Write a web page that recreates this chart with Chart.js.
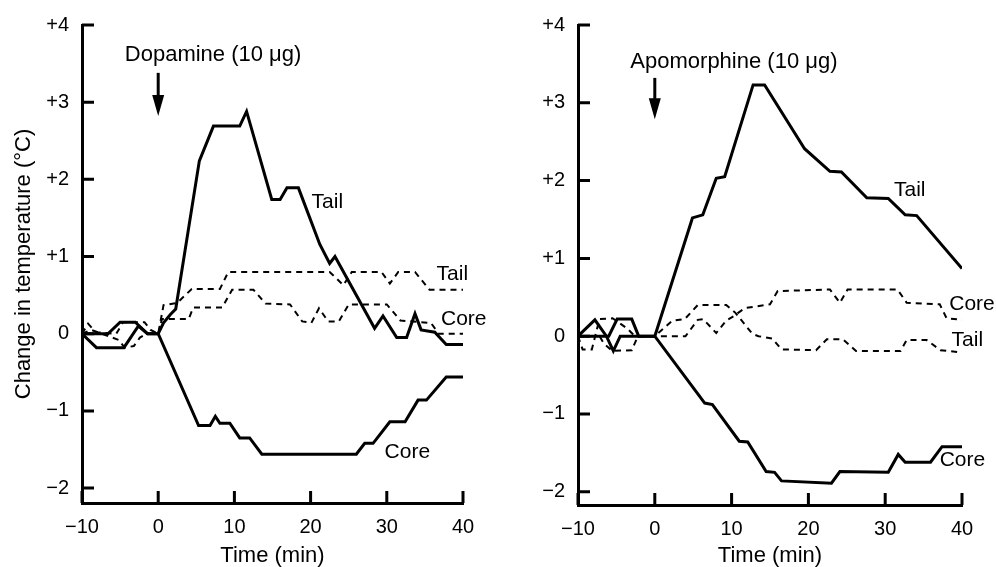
<!DOCTYPE html>
<html>
<head>
<meta charset="utf-8">
<title>Dopamine / Apomorphine temperature change</title>
<script src="https://cdn.jsdelivr.net/npm/chart.js@4.4.1/dist/chart.umd.min.js"></script>
<style>
  html, body { margin: 0; padding: 0; background: #fff; }
  .wrap { display: flex; width: 996px; height: 567px; }
  canvas { display: block; }
</style>
</head>
<body>
<div class="wrap">
  <canvas id="dopamineChart" width="498" height="567"></canvas>
  <canvas id="apomorphineChart" width="498" height="567"></canvas>
</div>
<script>
// axis ticks
const xTickValues = [-10, 0, 10, 20, 30, 40];
const yTickValues = [-2, -1, 0, 1, 2, 3, 4];

// Dopamine (10 ug) panel -- [time (min), change in temperature (C)]
const dopamineTail = [
  [-10, 0], [-6.6, 0], [-5.0, 0.15], [-3.0, 0.15], [-1.4, 0], [0, 0],
  [0.7, 0.14], [1.6, 0.25], [2.3, 0.32], [5.4, 2.24], [7.25, 2.69], [10.7, 2.69],
  [11.6, 2.88], [14.9, 1.74], [16.0, 1.74], [16.9, 1.89], [18.4, 1.89], [21.2, 1.16],
  [22.5, 0.91], [23.2, 1.0], [28.4, 0.07], [29.5, 0.23], [31.3, -0.05], [32.6, -0.05],
  [33.7, 0.26], [34.5, 0.05], [36.3, 0.02], [37.8, -0.14], [40, -0.14],
];
const dopamineCore = [
  [-10, 0], [-8.1, -0.18], [-4.5, -0.18], [-2.6, 0.1], [-1.4, 0], [0, 0],
  [5.3, -1.19], [6.8, -1.19], [7.5, -1.07], [8.1, -1.16], [9.4, -1.16], [10.7, -1.35],
  [12.0, -1.35], [13.6, -1.56], [26.0, -1.56], [27.1, -1.42], [28.2, -1.42], [30.4, -1.14],
  [32.4, -1.14], [34.1, -0.86], [35.2, -0.86], [37.8, -0.56], [40, -0.56],
];
const dopamineTailControl = [
  [-10, 0], [-9.2, 0.13], [-8.2, 0.02], [-5.5, 0], [-4.6, 0.15], [-1.8, 0.15], [-1, 0.05],
  [0, 0], [0.7, 0.37], [2.5, 0.4], [4.4, 0.58], [8.1, 0.58], [9.2, 0.8], [22.5, 0.8],
  [24.3, 0.63], [25.4, 0.8], [29.3, 0.8], [30.4, 0.65], [31.5, 0.8], [33.7, 0.8],
  [35.6, 0.57], [40, 0.57],
];
const dopamineCoreControl = [
  [-10, 0], [-8.8, 0.05], [-5.2, -0.08], [-4.4, -0.18], [-3.2, -0.16], [-2.4, -0.05],
  [-1.5, 0], [0, 0], [0.5, 0.19], [4.0, 0.19], [4.6, 0.34], [8.4, 0.34], [9.7, 0.57],
  [12.5, 0.57], [14.1, 0.39], [17.3, 0.38], [18.9, 0.16], [20.1, 0.14], [21.1, 0.33],
  [22.3, 0.16], [23.7, 0.16], [25.0, 0.38], [30.0, 0.38], [31.8, 0.17], [35.8, 0.14],
  [36.8, 0], [40, 0],
];

// Apomorphine (10 ug) panel
const apomorphineTail = [
  [-10, 0], [-7.8, 0.21], [-6.3, 0], [-5.4, -0.19], [-4.5, 0], [0, 0],
  [4.9, 1.52], [6.25, 1.56], [8.0, 2.03], [9.1, 2.05], [12.8, 3.23], [14.3, 3.23],
  [19.5, 2.41], [22.8, 2.12], [24.3, 2.11], [27.6, 1.78], [30.4, 1.77], [32.6, 1.56],
  [34.1, 1.55], [40, 0.87],
];
const apomorphineCore = [
  [-10, 0], [-6.0, 0], [-4.9, 0.22], [-3.0, 0.22], [-2.1, 0], [0, 0],
  [6.5, -0.86], [7.5, -0.88], [11.0, -1.35], [12.1, -1.36], [14.5, -1.74], [15.6, -1.75],
  [16.5, -1.86], [23.0, -1.89], [24.1, -1.74], [30.4, -1.75], [31.7, -1.52], [32.6, -1.62],
  [35.9, -1.62], [37.4, -1.42], [40, -1.42],
];
const apomorphineTailControl = [
  [-10, 0], [-9.4, -0.17], [-8.2, -0.17], [-7.2, 0.22], [-5.5, 0.23], [-3.6, 0.1],
  [-2.6, 0], [0, 0], [2.3, 0.2], [3.9, 0.22], [5.6, 0.4], [9.3, 0.4], [10.5, 0.3],
  [12.7, 0.03], [13.5, 0], [15.3, -0.03], [16.5, -0.17], [21, -0.18], [22.4, -0.04],
  [24.5, -0.04], [26.2, -0.19], [32, -0.19], [32.8, -0.05], [35.4, -0.05], [37.2, -0.18],
  [40, -0.21],
];
const apomorphineCoreControl = [
  [-10, 0], [-7.2, 0], [-6.6, -0.1], [-5.5, -0.19], [-3.0, -0.18], [-2.2, 0], [0, 0],
  [4.0, 0], [5.6, 0.21], [6.3, 0.22], [8.0, 0.04], [9.3, 0.2], [10.3, 0.26], [11.7, 0.36],
  [15.0, 0.41], [16.0, 0.58], [22.8, 0.6], [24.1, 0.43], [25.1, 0.6], [31.6, 0.6],
  [32.8, 0.43], [37.1, 0.41], [38.0, 0.23], [40, 0.21],
];

const INK = "#000";
const FONT = "'Liberation Sans', Arial, Helvetica, sans-serif";

Chart.defaults.font.family = FONT;
Chart.defaults.color = INK;

const fmtY = (v) => (v > 0 ? "+" + v : v < 0 ? "\u2212" + Math.abs(v) : "0");
const fmtX = (v) => (v < 0 ? "\u2212" + Math.abs(v) : String(v));

const line = (points, dashed) => ({
  data: points.map(([x, y]) => ({ x, y })),
  borderColor: INK,
  borderWidth: dashed ? 2 : 3,
  borderDash: dashed ? [6, 5] : [],
  pointRadius: 0,
  tension: 0,
  showLine: true,
  fill: false,
});

// ticks on these graphs point into the plot
const inwardTicks = {
  id: "inwardTicks",
  afterDraw(chart) {
    const { ctx, chartArea, scales } = chart;
    ctx.save();
    ctx.strokeStyle = INK;
    ctx.lineWidth = 3;
    ctx.beginPath();
    scales.x.ticks.forEach((t) => {
      const px = scales.x.getPixelForValue(t.value);
      ctx.moveTo(px, chartArea.bottom);
      ctx.lineTo(px, chartArea.bottom - 12);
    });
    scales.y.ticks.forEach((t) => {
      const py = scales.y.getPixelForValue(t.value);
      ctx.moveTo(chartArea.left, py);
      ctx.lineTo(chartArea.left + 12, py);
    });
    ctx.stroke();
    ctx.restore();
  },
};

// curve labels and the injection arrow, placed in data units
const notes = (labels, arrow) => ({
  id: "notes",
  afterDraw(chart) {
    const { ctx } = chart;
    const { x, y } = chart.scales;
    ctx.save();
    ctx.fillStyle = INK;
    ctx.strokeStyle = INK;
    ctx.textAlign = "center";
    ctx.textBaseline = "middle";
    labels.forEach((l) => {
      ctx.font = `${l.size}px ${FONT}`;
      ctx.fillText(l.text, x.getPixelForValue(l.x), y.getPixelForValue(l.y));
    });

    const ax = x.getPixelForValue(arrow.x);
    const top = y.getPixelForValue(arrow.from);
    const tip = y.getPixelForValue(arrow.to);
    ctx.lineWidth = 3;
    ctx.beginPath();
    ctx.moveTo(ax, top);
    ctx.lineTo(ax, tip - 16);
    ctx.stroke();
    ctx.beginPath();
    ctx.moveTo(ax - 6, tip - 21);
    ctx.lineTo(ax + 6, tip - 21);
    ctx.lineTo(ax, tip);
    ctx.closePath();
    ctx.fill();
    ctx.restore();
  },
});

function makePanel(id, series, labels, arrow, area, yMin, showYTitle) {
  const W = 498, H = 567;
  return new Chart(document.getElementById(id), {
    type: "scatter",
    data: {
      datasets: [
        line(series.tail, false),
        line(series.core, false),
        line(series.tailControl, true),
        line(series.coreControl, true),
      ],
    },
    options: {
      responsive: false,
      animation: false,
      layout: { padding: { left: 0, top: area.top, right: W - area.right, bottom: 0 } },
      plugins: { legend: { display: false }, tooltip: { enabled: false } },
      scales: {
        x: {
          type: "linear",
          min: -10,
          max: 40,
          afterBuildTicks: (s) => { s.ticks = xTickValues.map((value) => ({ value })); },
          afterFit: (s) => { s.height = H - area.bottom; },
          grid: { display: false, drawTicks: false },
          border: { display: true, color: INK, width: 3 },
          ticks: { callback: fmtX, padding: 12, font: { size: 20 }, color: INK, maxRotation: 0 },
          title: {
            display: true,
            text: "Time (min)",
            font: { size: 22, lineHeight: 1 },
            padding: { top: 0, bottom: 0 },
            color: INK,
          },
        },
        y: {
          type: "linear",
          min: yMin,
          max: 4,
          afterBuildTicks: (s) => { s.ticks = yTickValues.map((value) => ({ value })); },
          afterFit: (s) => { s.width = area.left; },
          grid: { display: false, drawTicks: false },
          border: { display: true, color: INK, width: 3 },
          ticks: { callback: fmtY, padding: 13, font: { size: 20 }, color: INK },
          title: {
            display: showYTitle,
            text: "Change in temperature (\u00b0C)",
            font: { size: 22, lineHeight: 1 },
            padding: { top: 13, bottom: 0 },
            color: INK,
          },
        },
      },
    },
    plugins: [inwardTicks, notes(labels, arrow)],
  });
}

makePanel(
  "dopamineChart",
  { tail: dopamineTail, core: dopamineCore, tailControl: dopamineTailControl, coreControl: dopamineCoreControl },
  [
    { text: "Dopamine (10 \u03bcg)", x: 7.2, y: 3.61, size: 22 },
    { text: "Tail", x: 22.2, y: 1.7, size: 21 },
    { text: "Tail", x: 38.6, y: 0.77, size: 21 },
    { text: "Core", x: 40.1, y: 0.19, size: 21 },
    { text: "Core", x: 32.7, y: -1.54, size: 21 },
  ],
  { x: 0, from: 3.38, to: 2.82 },
  { left: 82, right: 463, top: 22, bottom: 503 },
  -2.193,
  true
);

makePanel(
  "apomorphineChart",
  { tail: apomorphineTail, core: apomorphineCore, tailControl: apomorphineTailControl, coreControl: apomorphineCoreControl },
  [
    { text: "Apomorphine (10 \u03bcg)", x: 10.3, y: 3.52, size: 22 },
    { text: "Tail", x: 33.2, y: 1.88, size: 21 },
    { text: "Core", x: 41.3, y: 0.41, size: 21 },
    { text: "Tail", x: 40.7, y: -0.05, size: 21 },
    { text: "Core", x: 40.06, y: -1.6, size: 21 },
  ],
  { x: 0, from: 3.32, to: 2.79 },
  { left: 80, right: 464, top: 22, bottom: 505 },
  -2.17,
  false
);
</script>
</body>
</html>
